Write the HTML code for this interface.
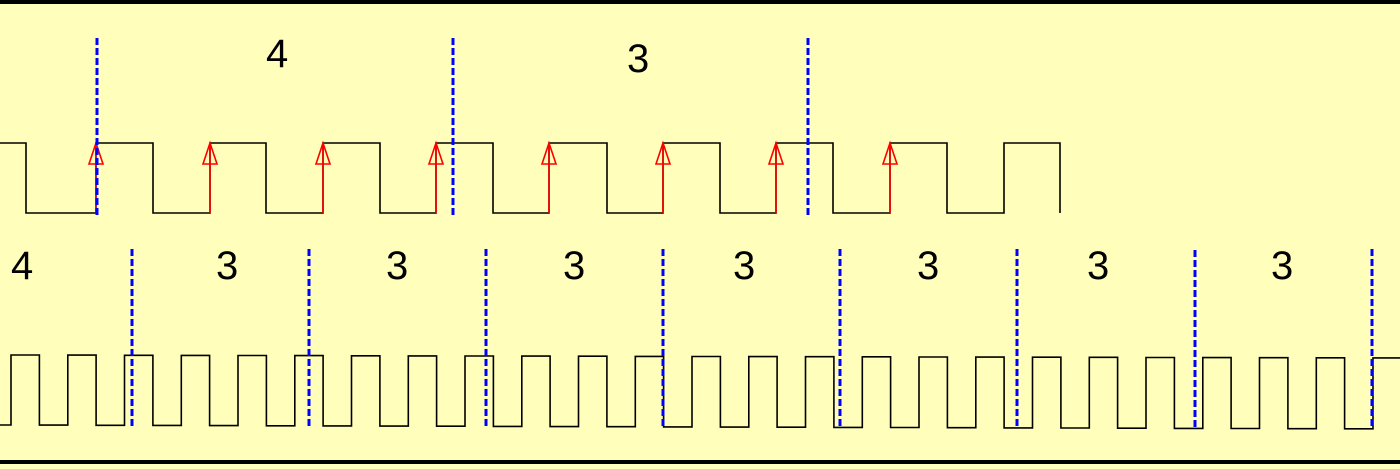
<!DOCTYPE html>
<html><head><style>
html,body{margin:0;padding:0;}
body{width:1400px;height:464px;overflow:hidden;background:#ffffbb;}
svg text{font-family:"Liberation Sans",sans-serif;font-size:40px;fill:#000;}
</style></head><body>
<svg width="1400" height="464" xmlns="http://www.w3.org/2000/svg">
<rect x="0" y="0" width="1400" height="464" fill="#ffffbb"/>
<rect x="0" y="0" width="1400" height="4" fill="#000"/>
<rect x="0" y="460" width="1400" height="4" fill="#000"/>
<path fill="none" stroke="#000" stroke-width="1.6" d="M0 143 H26 V213 H96 V143 H153 V213 H210 V143 H266 V213 H323 V143 H380 V213 H436 V143 H493 V213 H549 V143 H607 V213 H663 V143 H720 V213 H776 V143 H833 V213 H890 V143 H947 V213 H1004 V143 H1060 V213"/>
<g stroke="#ff0000" stroke-width="1.6" fill="none">
<path d="M96 213V145 M96 143 L89 164 H103 Z"/>
<path d="M210 213V145 M210 143 L203 164 H217 Z"/>
<path d="M323 213V145 M323 143 L316 164 H330 Z"/>
<path d="M436 213V145 M436 143 L429 164 H443 Z"/>
<path d="M549 213V145 M549 143 L542 164 H556 Z"/>
<path d="M663 213V145 M663 143 L656 164 H670 Z"/>
<path d="M776 213V145 M776 143 L769 164 H783 Z"/>
<path d="M890 213V145 M890 143 L883 164 H897 Z"/>
</g>
<path id="bw" fill="none" stroke="#000" stroke-width="1.6" d=""/>
<g stroke="#0000ff" stroke-width="3" stroke-dasharray="7,3">
<line x1="97" y1="38" x2="97" y2="215"/>
<line x1="453" y1="38" x2="453" y2="215"/>
<line x1="808" y1="38" x2="808" y2="215"/>
<line x1="132" y1="249" x2="132" y2="426"/>
<line x1="309" y1="249" x2="309" y2="426"/>
<line x1="486" y1="249" x2="486" y2="426"/>
<line x1="663" y1="249" x2="663" y2="426"/>
<line x1="840" y1="249" x2="840" y2="426"/>
<line x1="1017" y1="249" x2="1017" y2="426"/>
<line x1="1195" y1="250" x2="1195" y2="428"/>
<line x1="1372" y1="249" x2="1372" y2="428"/>
</g>
<text x="266" y="67">4</text>
<text x="627" y="72">3</text>
<text x="11" y="279">4</text>
<text x="216" y="279">3</text>
<text x="386" y="279">3</text>
<text x="563" y="279">3</text>
<text x="733" y="279">3</text>
<text x="917" y="279">3</text>
<text x="1087" y="279">3</text>
<text x="1271" y="279">3</text>
</svg>
<script>
(function(){
var d="M0 425 H11";var p=56.75,x0=11;
function hy(x){return 355+3*x/1400;}function ly(x){return 425+4*x/1400;}
for(var i=0;i<24;i++){var r=x0+i*p,f=r+p/2,n=r+p;
d+=" V"+hy(r).toFixed(1)+" H"+f.toFixed(1)+" V"+ly(f).toFixed(1)+" H"+n.toFixed(1);}
var r=x0+24*p;d+=" V"+hy(r).toFixed(1)+" H1400";
document.getElementById("bw").setAttribute("d",d);
})();
</script>
</body></html>
